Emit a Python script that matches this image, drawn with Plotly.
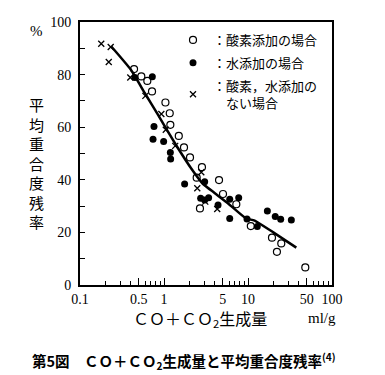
import plotly.graph_objects as go

# 酸素添加の場合 (open circles)
o2_x = [0.44, 0.537, 0.633, 0.72, 1.04, 1.17, 1.19, 1.5, 1.73, 2.04, 2.45, 2.83, 2.68, 4.52, 5.04, 7.26, 10.8, 19.3, 24.9, 22.1, 48.1]
o2_y = [82.1, 79.3, 77.6, 73.6, 69.4, 65.3, 60.9, 56.7, 52.3, 48.5, 40.8, 44.8, 29.1, 39.9, 34.6, 30.7, 22.4, 18.0, 15.8, 12.6, 6.7]
# 水添加の場合 (filled circles)
h2o_x = [0.45, 0.726, 0.76, 0.74, 0.99, 1.19, 1.2, 1.76, 3.05, 2.73, 3.05, 3.4, 4.4, 6.06, 7.75, 6.06, 9.73, 12.9, 17.0, 21.1, 24.5, 32.8]
h2o_y = [78.9, 79.2, 60.3, 55.4, 54.6, 50.4, 47.9, 38.4, 39.3, 33.0, 32.3, 33.2, 30.4, 32.6, 33.2, 25.3, 25.1, 22.2, 28.1, 26.0, 25.0, 24.7]
# 酸素，水添加のない場合 (crosses)
none_x = [0.179, 0.232, 0.22, 0.397, 0.6, 0.93, 1.05, 1.36, 2.49, 2.78, 3.1, 4.3]
none_y = [91.7, 90.5, 84.8, 78.9, 71.9, 65.0, 59.0, 52.9, 36.8, 42.9, 31.7, 28.9]
# fitted curve
fit_x = [0.236, 0.40, 0.59, 0.85, 1.11, 1.47, 2.1, 2.9, 4.0, 5.8, 9.5, 12, 20, 37.6]
fit_y = [90.7, 82, 73, 64.7, 58.4, 52, 44.4, 38.5, 35, 31, 25.3, 24.5, 20, 14.2]

x_tickvals = [0.1, 0.5, 1, 5, 10, 50, 100]
x_ticktext = ["0.1", "0.5", "1", "5", "10", "50", "100"]
x_minor = [0.2, 0.3, 0.4, 0.6, 0.7, 0.8, 0.9, 2, 3, 4, 6, 7, 8, 9, 20, 30, 40, 60, 70, 80, 90]
y_tickvals = [0, 20, 40, 60, 80, 100]

names = ["：酸素添加の場合", "：水添加の場合", "：酸素，水添加の<br>　ない場合"]

W, H = 385, 375
L, R, T, B = 72, 61, 14, 98
PW, PH = W - L - R, H - T - B

def px(x):
    return (x - L) / PW

def py(y):
    return (H - B - y) / PH

SERIF = "Liberation Serif"
CJK = "Noto Sans CJK JP"

fig = go.Figure()
fig.add_trace(go.Scatter(x=fit_x, y=fit_y, mode="lines", line=dict(color="black", width=2.5, shape="spline", smoothing=0.5),
                         showlegend=False, hoverinfo="skip"))
fig.add_trace(go.Scatter(x=o2_x, y=o2_y, mode="markers", name=names[0], legendgroup="g1",
                         marker=dict(symbol="circle-open", size=7, color="black", line=dict(width=1.2, color="black"))))
fig.add_trace(go.Scatter(x=h2o_x, y=h2o_y, mode="markers", name=names[1], legendgroup="g2",
                         marker=dict(symbol="circle", size=7, color="black")))
fig.add_trace(go.Scatter(x=none_x, y=none_y, mode="markers", name=names[2], legendgroup="g3",
                         marker=dict(symbol="x-thin-open", size=6, color="black", line=dict(width=1.3, color="black"))))

fig.update_layout(
    width=W, height=H,
    margin=dict(l=L, r=R, t=T, b=B, autoexpand=False),
    paper_bgcolor="white", plot_bgcolor="white",
    font=dict(family=CJK, color="black"),
    legend=dict(x=px(165), y=py(17), xanchor="left", yanchor="top", bgcolor="rgba(0,0,0,0)",
                font=dict(family=CJK, size=13, color="black"), tracegroupgap=3, itemwidth=30),
    xaxis=dict(type="log", range=[-1, 2], tickmode="array", tickvals=x_tickvals, ticktext=x_ticktext,
               ticks="inside", ticklen=7, tickwidth=1, tickcolor="black",
               minor=dict(tickvals=x_minor, ticks="inside", ticklen=4, tickwidth=1, tickcolor="black"),
               showline=True, linewidth=2, linecolor="black", mirror=True, showgrid=False, zeroline=False,
               tickfont=dict(family=SERIF, size=14, color="black")),
    yaxis=dict(range=[0, 100], tickmode="array", tickvals=y_tickvals,
               ticks="inside", ticklen=5, tickwidth=1, tickcolor="black",
               minor=dict(dtick=10, ticks="inside", ticklen=5, tickwidth=1, tickcolor="black"),
               showline=True, linewidth=2, linecolor="black", mirror=True, showgrid=False, zeroline=False,
               ticklabelstandoff=4,
               tickfont=dict(family=SERIF, size=14, color="black")),
)

ann = [
    dict(text="%", x=px(28), y=py(23), xanchor="center", font=dict(family=SERIF, size=15)),
    dict(text="<br>".join(list("平均重合度残率")), x=px(28), y=py(155), xanchor="center", font=dict(family=CJK, size=15)),
    dict(text="ＣＯ＋ＣＯ<sub>2</sub>生成量", x=px(192), y=py(310), xanchor="center", font=dict(family=CJK, size=16)),
    dict(text="ml/g", x=px(314), y=py(310), xanchor="center", font=dict(family=SERIF, size=15)),
    dict(text="<b>第5図　ＣＯ＋ＣＯ<sub>2</sub>生成量と平均重合度残率<sup>(4)</sup></b>", x=px(22), y=py(353),
         xanchor="left", font=dict(family=CJK, size=14.5)),
]
for a in ann:
    fig.add_annotation(xref="paper", yref="paper", showarrow=False, yanchor="middle", **a)

fig.write_html("out.html")
